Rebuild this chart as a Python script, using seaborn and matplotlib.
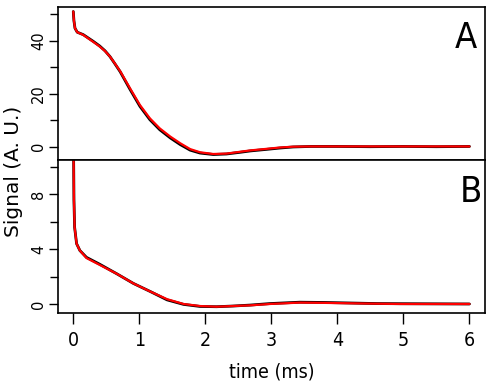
import numpy as np
import pandas as pd
import matplotlib
matplotlib.use("Agg")
import matplotlib.pyplot as plt
from matplotlib.ticker import MultipleLocator
from matplotlib import font_manager
import seaborn as sns

# ---- data ----
t_a = [0.0, 0.01, 0.026, 0.06, 0.15, 0.30, 0.40, 0.48, 0.556, 0.63, 0.71, 0.86,
       1.01, 1.16, 1.31, 1.47, 1.62, 1.77, 1.92, 2.12, 2.32, 2.53, 2.68, 2.93,
       3.13, 3.33, 3.6, 4.0, 4.5, 5.0, 5.5, 6.0]
fit_a = [51.0, 47.5, 44.7, 43.2, 42.2, 39.6, 37.8, 36.1, 34.0, 31.4, 28.5, 22.0,
         15.7, 10.7, 6.9, 3.8, 1.3, -0.9, -2.1, -2.75, -2.6, -1.9, -1.4, -0.8,
         -0.3, 0.0, 0.1, 0.1, 0.1, 0.1, 0.1, 0.1]
data_a = [51.0, 47.5, 44.7, 43.2, 42.3, 39.8, 38.0, 36.2, 34.0, 31.3, 28.3, 21.6,
          15.2, 10.2, 6.4, 3.3, 0.8, -1.3, -2.4, -2.95, -2.75, -2.1, -1.6, -1.0,
          -0.5, -0.1, 0.1, 0.1, 0.0, 0.1, 0.0, 0.1]

t_b = [0.0, 0.01, 0.02, 0.05, 0.1, 0.2, 0.4, 0.66, 0.91, 1.17, 1.42, 1.67,
       1.92, 2.17, 2.42, 2.68, 2.98, 3.43, 3.8, 4.2, 4.6, 4.95, 5.5, 6.0]
fit_b = [14.0, 7.6, 5.6, 4.4, 3.9, 3.35, 2.85, 2.2, 1.5, 0.9, 0.35, 0.0,
         -0.15, -0.2, -0.15, -0.1, 0.0, 0.1, 0.08, 0.05, 0.02, 0.0, 0.0, 0.0]
data_b = [14.0, 7.6, 5.6, 4.4, 3.9, 3.4, 2.9, 2.2, 1.5, 0.9, 0.3, -0.03,
          -0.18, -0.2, -0.15, -0.08, 0.03, 0.13, 0.11, 0.07, 0.03, 0.02, 0.01, 0.0]

x_ticks = [0, 1, 2, 3, 4, 5, 6]
a_major = [0, 20, 40]
b_major = [0, 4, 8]

# condensed font (DejaVu Sans Condensed) if installed
cond_path = None
for f in font_manager.findSystemFonts():
    if f.split("/")[-1] == "DejaVuSansCondensed.ttf":
        cond_path = f
        break


def cond_props(size):
    if cond_path:
        return font_manager.FontProperties(fname=cond_path, size=size)
    return font_manager.FontProperties(family="DejaVu Sans", stretch="condensed", size=size)


sns.set_style("ticks")
plt.rcParams['font.family'] = ['DejaVu Sans']
plt.rcParams['axes.linewidth'] = 1.2
plt.rcParams['axes.edgecolor'] = 'black'
plt.rcParams['text.color'] = 'black'
plt.rcParams['xtick.color'] = 'black'
plt.rcParams['ytick.color'] = 'black'
plt.rcParams['xtick.labelcolor'] = 'black'
plt.rcParams['ytick.labelcolor'] = 'black'

fig = plt.figure(figsize=(4.93, 3.89), dpi=100)
L, R = 57.7 / 493, 485.3 / 493
axA = fig.add_axes([L, 1 - 160.3 / 389, R - L, (160.3 - 7.3) / 389])
axB = fig.add_axes([L, 1 - 313.3 / 389, R - L, (313.3 - 160.3) / 389])

dfA = pd.DataFrame({"t": t_a, "fit": fit_a, "data": data_a})
dfB = pd.DataFrame({"t": t_b, "fit": fit_b, "data": data_b})

for ax, df, major, ylim, minor, lab, lx, ly in [
        (axA, dfA, a_major, (-5.13, 52.6), 10, "A", 466, 38),
        (axB, dfB, b_major, (-0.68, 10.48), 2, "B", 471, 192)]:
    sns.lineplot(data=df, x="t", y="data", ax=ax, color="black", lw=2.0,
                 estimator=None, sort=False)
    sns.lineplot(data=df, x="t", y="fit", ax=ax, color="#ff0000", lw=1.6,
                 estimator=None, sort=False)
    ax.set_xlim(-0.236, 6.24)
    ax.set_ylim(*ylim)
    ax.set_yticks(major)
    ax.yaxis.set_minor_locator(MultipleLocator(minor))
    ax.set_xlabel("")
    ax.set_ylabel("")
    for s in ax.spines.values():
        s.set_visible(True)
        s.set_linewidth(1.2)
        s.set_color("black")
    ax.tick_params(axis="y", which="major", length=6.5, width=1.0, labelsize=10.5,
                   labelrotation=90, pad=2)
    ax.tick_params(axis="y", which="minor", length=6, width=1.0)
    for tl in ax.get_yticklabels():
        tl.set_va("center")
    ax.text(lx / 493, 1 - ly / 389, lab, transform=fig.transFigure,
            ha="center", va="center", fontproperties=cond_props(26))

axA.tick_params(axis="x", which="both", bottom=False, labelbottom=False)
axB.set_xticks(x_ticks)
axB.tick_params(axis="x", which="major", length=8, width=1.0, pad=5)
for tl in axB.get_xticklabels():
    tl.set_fontproperties(cond_props(14))

fig.text(271.5 / 493, 1 - 372 / 389, "time (ms)", ha="center", va="center",
         fontproperties=cond_props(14))
fig.text(13.5 / 493, 1 - 171 / 389, "Signal (A. U.)", ha="center", va="center",
         rotation=90, fontsize=14.5)

fig.savefig("out.png", dpi=100)
